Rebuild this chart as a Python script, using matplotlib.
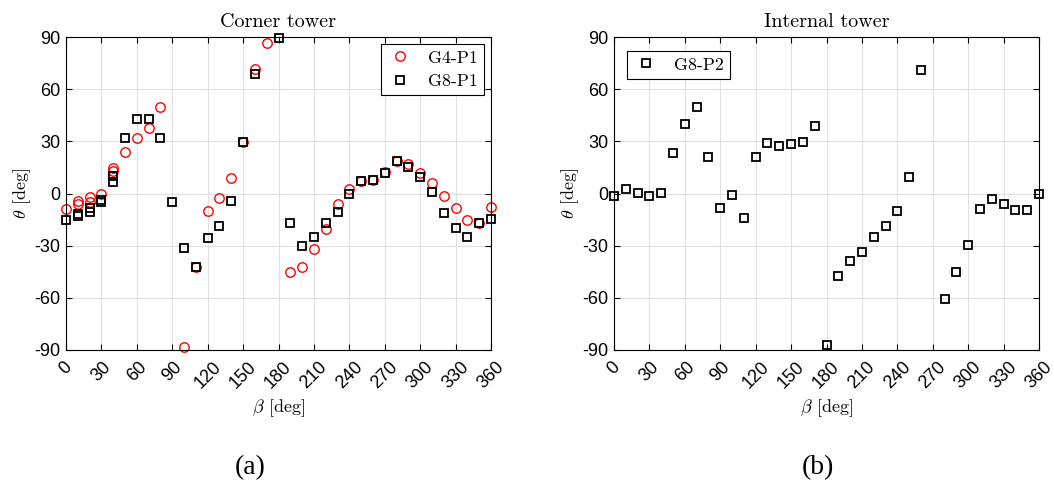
import numpy as np
import matplotlib
matplotlib.use("Agg")
from matplotlib import pyplot as plt

nan = np.nan

# wind direction beta [deg]
beta = list(range(0, 361, 10))

# corner tower, G4-P1 (red circles)
g4_p1 = [-8.9, -4.3, -2.2, -0.3, 14.8, 23.7, 32.1, 37.8, 49.6, nan,
         -88.0, -42.0, -10.0, -2.8, 8.7, 29.5, 71.4, 86.4, nan, -44.9,
         -42.0, -32.0, -20.4, -6.0, 2.6, 7.2, 7.8, 12.5, 18.9, 16.8,
         12.0, 5.9, -1.5, -8.5, -15.2, -17.1, -7.6]
g4_p1_extra_beta = [10, 20, 40]
g4_p1_extra = [-6.0, -5.1, 12.9]

# corner tower, G8-P1 (black squares)
g8_p1 = [-15.4, -11.8, -8.5, -3.5, 10.2, 32.1, 42.8, 42.8, 32.1, -5.1,
         -31.1, -42.3, -25.4, -18.5, -4.2, 29.8, 68.6, nan, 89.3, -17.1,
         -30.2, -25.0, -17.1, -10.5, 0.0, 7.2, 7.6, 12.0, 18.9, 15.1,
         9.7, 0.6, -11.0, -20.0, -24.8, -17.1, -14.8]
g8_p1_extra_beta = [10, 20, 30, 40]
g8_p1_extra = [-12.7, -10.5, -5.1, 6.4]

# internal tower, G8-P2
g8_p2 = [-1.5, 2.8, 0.3, -1.7, 0.4, 23.3, 40.0, 49.5, 21.0, -8.3,
         -1.1, -14.3, 21.1, 29.2, 27.1, 28.6, 29.6, 38.6, -87.3, -47.4,
         -38.6, -33.6, -25.2, -18.9, -10.3, 9.3, 70.8, nan, -60.7, -45.4,
         -29.8, -8.8, -3.4, -6.0, -9.5, -9.5, -0.2]

xticks = list(range(0, 361, 30))
yticks = list(range(-90, 91, 30))

plt.rcParams['mathtext.fontset'] = 'cm'
plt.rcParams['axes.unicode_minus'] = False

fig = plt.figure(figsize=(10.54, 4.88), dpi=100)
ax1 = fig.add_axes([66/1054, 1 - 350/488, 425/1054, 313/488])
ax2 = fig.add_axes([614/1054, 1 - 350/488, 425/1054, 313/488])

circ = dict(marker='o', linestyle='none', markersize=6.8, markerfacecolor='none',
            markeredgecolor='red', markeredgewidth=1.0, clip_on=False)
sq = dict(marker='s', linestyle='none', markersize=5.4, markerfacecolor='none',
          markeredgecolor='black', markeredgewidth=1.3, clip_on=False)

ax1.plot(beta, g4_p1, label='G4-P1', **circ)
ax1.plot(g4_p1_extra_beta, g4_p1_extra, **circ)
ax1.plot(beta, g8_p1, label='G8-P1', **sq)
ax1.plot(g8_p1_extra_beta, g8_p1_extra, **sq)

ax2.plot(beta, g8_p2, label='G8-P2', **sq)

titles = ['Corner tower', 'Internal tower']
for ax, t in zip([ax1, ax2], titles):
    ax.set_xlim(0, 360)
    ax.set_ylim(-90, 90)
    ax.set_xticks(xticks)
    ax.set_yticks(yticks)
    ax.set_xticklabels([str(v) for v in xticks], rotation=45, ha='center',
                       fontsize=13, family='Liberation Sans')
    ax.set_yticklabels([str(v) for v in yticks], fontsize=13, family='Liberation Sans')
    ax.tick_params(direction='in', top=True, right=True, length=4, width=0.8)
    ax.tick_params(axis='x', pad=6)
    ax.tick_params(axis='y', pad=4)
    ax.grid(True, color='#e0e0e0', linewidth=0.8)
    ax.set_axisbelow(True)
    for s in ax.spines.values():
        s.set_linewidth(0.8)
    ax.set_title(t, family='cmr10', fontsize=14.5, pad=7)
    ax.set_xlabel(r'$\beta$ [deg]', family='cmr10', fontsize=13, va='center')
    ax.set_ylabel(r'$\theta$ [deg]', family='cmr10', fontsize=13, va='center')
    ax.xaxis.set_label_coords(0.5, -(408 - 350) / 313)
    ax.yaxis.set_label_coords(-(66 - 22) / 425, 0.5)

leg_kw = dict(prop={'family': 'cmr10', 'size': 12.8}, fancybox=False, framealpha=1,
              edgecolor='black', handletextpad=0.9, handlelength=1.4,
              markerscale=1.0, borderpad=0.35, labelspacing=0.45)
l1 = ax1.legend(loc='upper right', bbox_to_anchor=(484/1054, 1 - 44/488),
                bbox_transform=fig.transFigure, borderaxespad=0, **leg_kw)
l1.get_frame().set_linewidth(0.8)
l2 = ax2.legend(loc='upper left', bbox_to_anchor=(627/1054, 1 - 51/488),
                bbox_transform=fig.transFigure, borderaxespad=0, **leg_kw)
l2.get_frame().set_linewidth(0.8)

fig.text(250/1054, 1 - 468/488, '(a)', family='Liberation Serif', fontsize=20,
         ha='center', va='center')
fig.text(818/1054, 1 - 468/488, '(b)', family='Liberation Serif', fontsize=20,
         ha='center', va='center')

fig.savefig('out.png', dpi=100)
